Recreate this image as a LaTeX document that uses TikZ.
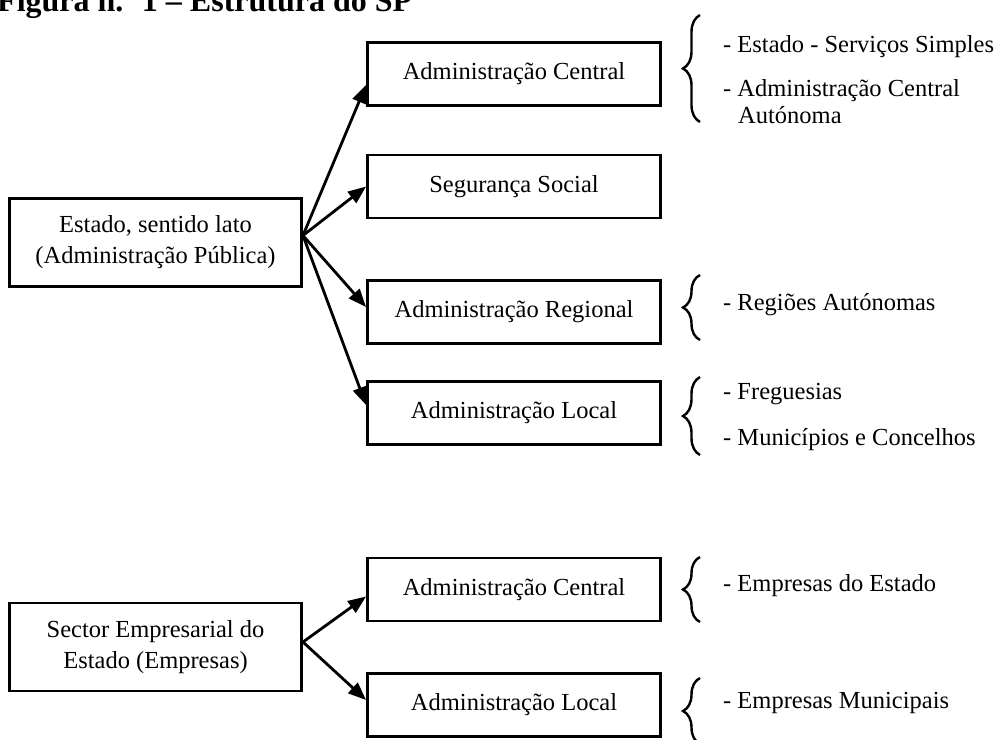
\documentclass[tikz,border=0pt]{standalone}
\usepackage{fontspec}
\setmainfont{Liberation Serif}
\usetikzlibrary{arrows.meta,decorations.pathreplacing,calc}
\begin{document}
\begin{tikzpicture}[x=1pt,y=-1pt,
  txt/.style={font=\fontsize{24.5}{31}\selectfont},
  box/.style={draw, line width=2.9pt, minimum width=293pt, minimum height=63pt,
    inner sep=0pt, align=center, txt},
  bigbox/.style={box, minimum width=292pt, minimum height=88pt},
  lbl/.style={anchor=base west, inner sep=0pt, txt},
  conn/.style={line width=2.8pt, -{Triangle[length=18pt,width=14pt]}},
  brc/.style={decorate, decoration={brace, amplitude=17pt}, line width=2.4pt}]
\useasboundingbox (0,0) rectangle (1001,739);
\clip (0,0) rectangle (1001,739);
\fill[white] (0,0) rectangle (1001,739);

\node[anchor=base west, inner sep=0pt, font=\fontsize{32}{38}\selectfont\bfseries] (title) at (-3,11) {Figura n.º 1 – Estrutura do SP};

% upper group
\node[bigbox] (est) at (155.5,242.5) {Estado, sentido lato\\(Administração Pública)};
\node[box] (ac) at (514,74) {Administração Central};
\node[box] (ss) at (514,186.5) {Segurança Social};
\node[box] (ar) at (514,312) {Administração Regional};
\node[box] (al) at (514,413) {Administração Local};

\coordinate (o1) at ($(est.east)+(0,-7)$);
\draw[conn] (o1) -- ($(ac.west)+(0,11)$);
\draw[conn] (o1) -- (ss.west);
\draw[conn] (o1) -- ($(ar.west)+(0,-5)$);
\draw[conn] (o1) -- ($(al.west)+(0,-8)$);

% lower group
\node[bigbox] (see) at (155.5,647) {Sector Empresarial do\\Estado (Empresas)};
\node[box] (lac) at (514,589.5) {Administração Central};
\node[box] (lal) at (514,705) {Administração Local};

\coordinate (o2) at ($(see.east)+(0,-5)$);
\draw[conn] (o2) -- ($(lac.west)+(0,7)$);
\draw[conn] (o2) -- ($(lal.west)+(0,-5)$);

% braces
\draw[brc] (700,122) -- (700,15);
\node[lbl] (t1) at (723,52) {- Estado - Serviços Simples};
\node[lbl] (t2) at (723,96) {- Administração Central};
\node[lbl] (t3) at (738,123) {Autónoma};

\draw[brc] (700,340) -- (700,275);
\node[lbl] (t4) at (723,310) {- Regiões Autónomas};

\draw[brc] (700,455) -- (700,377);
\node[lbl] (t5) at (723,399) {- Freguesias};
\node[lbl] (t6) at (723,445) {- Municípios e Concelhos};

\draw[brc] (700,622) -- (700,557);
\node[lbl] (t7) at (723,591) {- Empresas do Estado};

\draw[brc] (700,744) -- (700,678);
\node[lbl] (t8) at (723,708) {- Empresas Municipais};
\end{tikzpicture}
\end{document}
